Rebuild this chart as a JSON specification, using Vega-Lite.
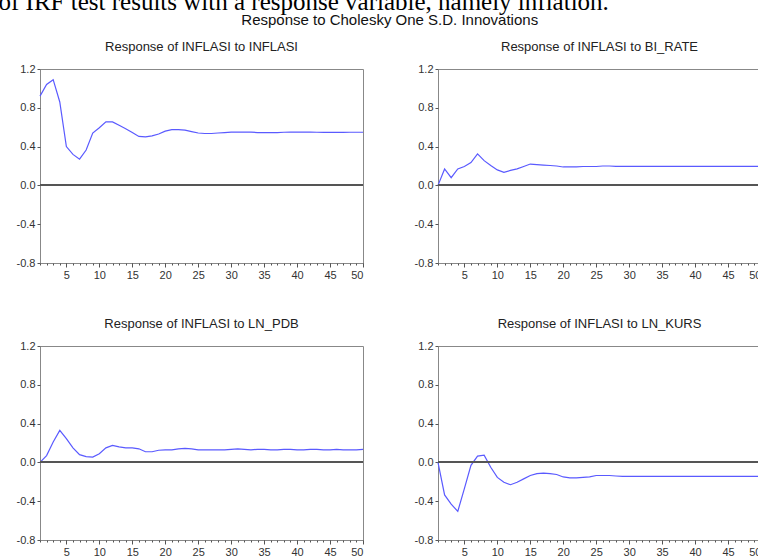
{
  "$schema": "https://vega.github.io/schema/vega-lite/v6.json",
  "background": "white",
  "autosize": {"type": "pad"},
  "padding": {"left": -2, "top": -11, "right": 0, "bottom": 0},
  "title": {"text": "of IRF test results with a response variable, namely inflation.", "font": "Liberation Serif", "fontSize": 25, "fontWeight": "normal", "color": "black", "anchor": "start", "dx": -17, "offset": -2},
  "datasets": {
    "p1": [
      {"t":1,"v":0.92},{"t":2,"v":1.04},{"t":3,"v":1.09},{"t":4,"v":0.86},{"t":5,"v":0.40},{"t":6,"v":0.32},{"t":7,"v":0.27},{"t":8,"v":0.365},{"t":9,"v":0.54},{"t":10,"v":0.595},
      {"t":11,"v":0.655},{"t":12,"v":0.655},{"t":13,"v":0.62},{"t":14,"v":0.585},{"t":15,"v":0.545},{"t":16,"v":0.505},{"t":17,"v":0.50},{"t":18,"v":0.51},{"t":19,"v":0.53},{"t":20,"v":0.56},
      {"t":21,"v":0.575},{"t":22,"v":0.575},{"t":23,"v":0.57},{"t":24,"v":0.555},{"t":25,"v":0.54},{"t":26,"v":0.535},{"t":27,"v":0.535},{"t":28,"v":0.54},{"t":29,"v":0.545},{"t":30,"v":0.55},
      {"t":31,"v":0.55},{"t":32,"v":0.55},{"t":33,"v":0.55},{"t":34,"v":0.545},{"t":35,"v":0.545},{"t":36,"v":0.545},{"t":37,"v":0.545},{"t":38,"v":0.548},{"t":39,"v":0.55},{"t":40,"v":0.55},
      {"t":41,"v":0.55},{"t":42,"v":0.55},{"t":43,"v":0.548},{"t":44,"v":0.546},{"t":45,"v":0.546},{"t":46,"v":0.546},{"t":47,"v":0.547},{"t":48,"v":0.548},{"t":49,"v":0.548},{"t":50,"v":0.548}
    ],
    "p2": [
      {"t":1,"v":0.0},{"t":2,"v":0.17},{"t":3,"v":0.08},{"t":4,"v":0.17},{"t":5,"v":0.195},{"t":6,"v":0.235},{"t":7,"v":0.325},{"t":8,"v":0.255},{"t":9,"v":0.205},{"t":10,"v":0.16},
      {"t":11,"v":0.135},{"t":12,"v":0.155},{"t":13,"v":0.17},{"t":14,"v":0.195},{"t":15,"v":0.22},{"t":16,"v":0.215},{"t":17,"v":0.21},{"t":18,"v":0.205},{"t":19,"v":0.20},{"t":20,"v":0.19},
      {"t":21,"v":0.19},{"t":22,"v":0.19},{"t":23,"v":0.195},{"t":24,"v":0.195},{"t":25,"v":0.195},{"t":26,"v":0.20},{"t":27,"v":0.20},{"t":28,"v":0.197},{"t":29,"v":0.196},{"t":30,"v":0.196},
      {"t":31,"v":0.196},{"t":32,"v":0.196},{"t":33,"v":0.196},{"t":34,"v":0.196},{"t":35,"v":0.196},{"t":36,"v":0.196},{"t":37,"v":0.196},{"t":38,"v":0.196},{"t":39,"v":0.196},{"t":40,"v":0.196},
      {"t":41,"v":0.196},{"t":42,"v":0.196},{"t":43,"v":0.196},{"t":44,"v":0.196},{"t":45,"v":0.196},{"t":46,"v":0.196},{"t":47,"v":0.196},{"t":48,"v":0.196},{"t":49,"v":0.196},{"t":50,"v":0.196}
    ],
    "p3": [
      {"t":1,"v":0.0},{"t":2,"v":0.07},{"t":3,"v":0.21},{"t":4,"v":0.33},{"t":5,"v":0.245},{"t":6,"v":0.15},{"t":7,"v":0.08},{"t":8,"v":0.06},{"t":9,"v":0.055},{"t":10,"v":0.09},
      {"t":11,"v":0.15},{"t":12,"v":0.175},{"t":13,"v":0.16},{"t":14,"v":0.15},{"t":15,"v":0.15},{"t":16,"v":0.14},{"t":17,"v":0.11},{"t":18,"v":0.11},{"t":19,"v":0.125},{"t":20,"v":0.13},
      {"t":21,"v":0.13},{"t":22,"v":0.14},{"t":23,"v":0.145},{"t":24,"v":0.14},{"t":25,"v":0.13},{"t":26,"v":0.13},{"t":27,"v":0.13},{"t":28,"v":0.13},{"t":29,"v":0.13},{"t":30,"v":0.135},
      {"t":31,"v":0.14},{"t":32,"v":0.135},{"t":33,"v":0.13},{"t":34,"v":0.135},{"t":35,"v":0.135},{"t":36,"v":0.13},{"t":37,"v":0.13},{"t":38,"v":0.135},{"t":39,"v":0.135},{"t":40,"v":0.13},
      {"t":41,"v":0.13},{"t":42,"v":0.135},{"t":43,"v":0.135},{"t":44,"v":0.13},{"t":45,"v":0.13},{"t":46,"v":0.135},{"t":47,"v":0.13},{"t":48,"v":0.13},{"t":49,"v":0.13},{"t":50,"v":0.135}
    ],
    "p4": [
      {"t":1,"v":0.0},{"t":2,"v":-0.335},{"t":3,"v":-0.43},{"t":4,"v":-0.505},{"t":5,"v":-0.27},{"t":6,"v":-0.03},{"t":7,"v":0.065},{"t":8,"v":0.075},{"t":9,"v":-0.05},{"t":10,"v":-0.155},
      {"t":11,"v":-0.205},{"t":12,"v":-0.23},{"t":13,"v":-0.205},{"t":14,"v":-0.17},{"t":15,"v":-0.135},{"t":16,"v":-0.115},{"t":17,"v":-0.11},{"t":18,"v":-0.115},{"t":19,"v":-0.125},{"t":20,"v":-0.15},
      {"t":21,"v":-0.16},{"t":22,"v":-0.16},{"t":23,"v":-0.155},{"t":24,"v":-0.15},{"t":25,"v":-0.135},{"t":26,"v":-0.135},{"t":27,"v":-0.135},{"t":28,"v":-0.14},{"t":29,"v":-0.145},{"t":30,"v":-0.145},
      {"t":31,"v":-0.145},{"t":32,"v":-0.145},{"t":33,"v":-0.145},{"t":34,"v":-0.145},{"t":35,"v":-0.145},{"t":36,"v":-0.145},{"t":37,"v":-0.145},{"t":38,"v":-0.145},{"t":39,"v":-0.145},{"t":40,"v":-0.145},
      {"t":41,"v":-0.145},{"t":42,"v":-0.145},{"t":43,"v":-0.145},{"t":44,"v":-0.145},{"t":45,"v":-0.145},{"t":46,"v":-0.145},{"t":47,"v":-0.145},{"t":48,"v":-0.145},{"t":49,"v":-0.145},{"t":50,"v":-0.145}
    ]
  },
  "vconcat": [
    {
      "title": {"text": "Response to Cholesky One S.D. Innovations", "font": "Liberation Sans", "fontSize": 15, "fontWeight": "normal", "color": "#111111", "anchor": "middle", "offset": 13},
      "spacing": 36,
      "vconcat": [
        {
          "spacing": 47,
          "hconcat": [
            {
              "width": 323, "height": 194,
              "title": {"text": "Response of INFLASI to INFLASI", "font": "Liberation Sans", "fontSize": 13, "fontWeight": "normal", "color": "#222222", "frame": "group", "anchor": "middle", "offset": 9},
              "data": {"name": "p1"},
              "layer": [
                {"mark": {"type": "line", "color": "#5a5aff", "strokeWidth": 1.2},
                 "encoding": {
                   "x": {"field": "t", "type": "quantitative", "scale": {"domain": [1, 50], "nice": false, "zero": false}, "axis": {"orient": "bottom", "values": [5,10,15,20,25,30,35,40,45,50], "tickCount": 100, "format": "d", "tickSize": 4, "domain": false, "title": null}},
                   "y": {"field": "v", "type": "quantitative", "scale": {"domain": [-0.8, 1.2], "nice": false, "zero": false}, "axis": {"values": [-0.8,-0.4,0,0.4,0.8,1.2], "tickCount": 100, "format": ".1f", "labelOverlap": false, "title": null}}}},
                {"mark": {"type": "tick", "opacity": 0},
                 "encoding": {
                   "x": {"field": "t", "type": "quantitative", "axis": {"orient": "bottom", "values": [1,2,3,4,5,6,7,8,9,10,11,12,13,14,15,16,17,18,19,20,21,22,23,24,25,26,27,28,29,30,31,32,33,34,35,36,37,38,39,40,41,42,43,44,45,46,47,48,49,50], "tickCount": 100, "tickSize": 2, "labels": false, "domain": false, "title": null}}}},
                {"mark": {"type": "rule", "color": "#555555", "strokeWidth": 1}, "encoding": {"y": {"datum": 0}}}
              ],
              "resolve": {"axis": {"x": "independent"}}
            },
            {
              "width": 323, "height": 194,
              "title": {"text": "Response of INFLASI to BI_RATE", "font": "Liberation Sans", "fontSize": 13, "fontWeight": "normal", "color": "#222222", "frame": "group", "anchor": "middle", "offset": 9},
              "data": {"name": "p2"},
              "layer": [
                {"mark": {"type": "line", "color": "#5a5aff", "strokeWidth": 1.2},
                 "encoding": {
                   "x": {"field": "t", "type": "quantitative", "scale": {"domain": [1, 50], "nice": false, "zero": false}, "axis": {"orient": "bottom", "values": [5,10,15,20,25,30,35,40,45,50], "tickCount": 100, "format": "d", "tickSize": 4, "domain": false, "title": null}},
                   "y": {"field": "v", "type": "quantitative", "scale": {"domain": [-0.8, 1.2], "nice": false, "zero": false}, "axis": {"values": [-0.8,-0.4,0,0.4,0.8,1.2], "tickCount": 100, "format": ".1f", "labelOverlap": false, "title": null}}}},
                {"mark": {"type": "tick", "opacity": 0},
                 "encoding": {
                   "x": {"field": "t", "type": "quantitative", "axis": {"orient": "bottom", "values": [1,2,3,4,5,6,7,8,9,10,11,12,13,14,15,16,17,18,19,20,21,22,23,24,25,26,27,28,29,30,31,32,33,34,35,36,37,38,39,40,41,42,43,44,45,46,47,48,49,50], "tickCount": 100, "tickSize": 2, "labels": false, "domain": false, "title": null}}}},
                {"mark": {"type": "rule", "color": "#555555", "strokeWidth": 1}, "encoding": {"y": {"datum": 0}}}
              ],
              "resolve": {"axis": {"x": "independent"}}
            }
          ]
        },
        {
          "spacing": 47,
          "hconcat": [
            {
              "width": 323, "height": 194,
              "title": {"text": "Response of INFLASI to LN_PDB", "font": "Liberation Sans", "fontSize": 13, "fontWeight": "normal", "color": "#222222", "frame": "group", "anchor": "middle", "offset": 9},
              "data": {"name": "p3"},
              "layer": [
                {"mark": {"type": "line", "color": "#5a5aff", "strokeWidth": 1.2},
                 "encoding": {
                   "x": {"field": "t", "type": "quantitative", "scale": {"domain": [1, 50], "nice": false, "zero": false}, "axis": {"orient": "bottom", "values": [5,10,15,20,25,30,35,40,45,50], "tickCount": 100, "format": "d", "tickSize": 4, "domain": false, "title": null}},
                   "y": {"field": "v", "type": "quantitative", "scale": {"domain": [-0.8, 1.2], "nice": false, "zero": false}, "axis": {"values": [-0.8,-0.4,0,0.4,0.8,1.2], "tickCount": 100, "format": ".1f", "labelOverlap": false, "title": null}}}},
                {"mark": {"type": "tick", "opacity": 0},
                 "encoding": {
                   "x": {"field": "t", "type": "quantitative", "axis": {"orient": "bottom", "values": [1,2,3,4,5,6,7,8,9,10,11,12,13,14,15,16,17,18,19,20,21,22,23,24,25,26,27,28,29,30,31,32,33,34,35,36,37,38,39,40,41,42,43,44,45,46,47,48,49,50], "tickCount": 100, "tickSize": 2, "labels": false, "domain": false, "title": null}}}},
                {"mark": {"type": "rule", "color": "#555555", "strokeWidth": 1}, "encoding": {"y": {"datum": 0}}}
              ],
              "resolve": {"axis": {"x": "independent"}}
            },
            {
              "width": 323, "height": 194,
              "title": {"text": "Response of INFLASI to LN_KURS", "font": "Liberation Sans", "fontSize": 13, "fontWeight": "normal", "color": "#222222", "frame": "group", "anchor": "middle", "offset": 9},
              "data": {"name": "p4"},
              "layer": [
                {"mark": {"type": "line", "color": "#5a5aff", "strokeWidth": 1.2},
                 "encoding": {
                   "x": {"field": "t", "type": "quantitative", "scale": {"domain": [1, 50], "nice": false, "zero": false}, "axis": {"orient": "bottom", "values": [5,10,15,20,25,30,35,40,45,50], "tickCount": 100, "format": "d", "tickSize": 4, "domain": false, "title": null}},
                   "y": {"field": "v", "type": "quantitative", "scale": {"domain": [-0.8, 1.2], "nice": false, "zero": false}, "axis": {"values": [-0.8,-0.4,0,0.4,0.8,1.2], "tickCount": 100, "format": ".1f", "labelOverlap": false, "title": null}}}},
                {"mark": {"type": "tick", "opacity": 0},
                 "encoding": {
                   "x": {"field": "t", "type": "quantitative", "axis": {"orient": "bottom", "values": [1,2,3,4,5,6,7,8,9,10,11,12,13,14,15,16,17,18,19,20,21,22,23,24,25,26,27,28,29,30,31,32,33,34,35,36,37,38,39,40,41,42,43,44,45,46,47,48,49,50], "tickCount": 100, "tickSize": 2, "labels": false, "domain": false, "title": null}}}},
                {"mark": {"type": "rule", "color": "#555555", "strokeWidth": 1}, "encoding": {"y": {"datum": 0}}}
              ],
              "resolve": {"axis": {"x": "independent"}}
            }
          ]
        }
      ]
    }
  ],
  "config": {
    "font": "Liberation Sans",
    "locale": {"number": {"decimal": ".", "thousands": ",", "grouping": [3], "currency": ["$", ""], "minus": "-"}},
    "view": {"stroke": "#888888", "strokeWidth": 1},
    "axis": {"grid": false, "labelFont": "Liberation Sans", "labelFontSize": 11, "labelColor": "#333333", "tickColor": "#555555", "tickSize": 3, "labelPadding": 2, "domain": false}
  }
}
